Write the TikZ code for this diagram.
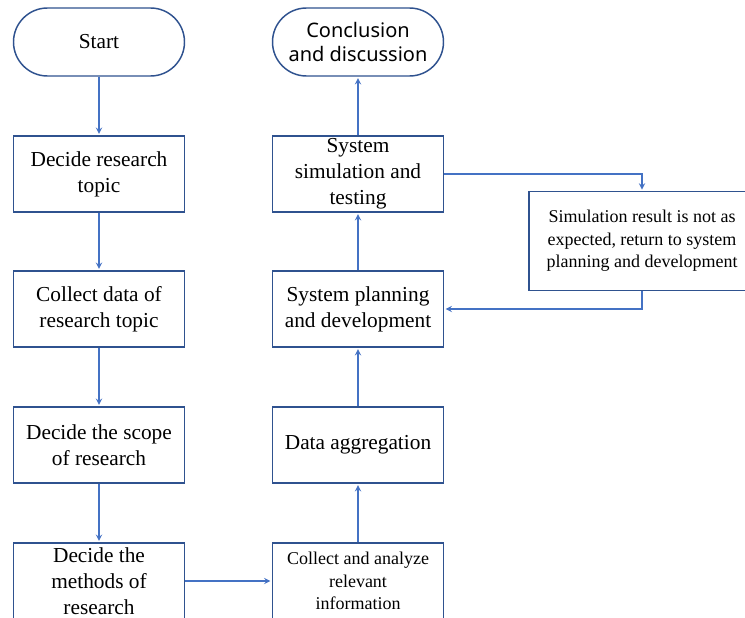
\documentclass[tikz,border=0pt]{standalone}
\usepackage{fontspec}
\setmainfont{Liberation Serif}
\newfontfamily\conclfont{Noto Sans}
\definecolor{boxblue}{HTML}{2F528F}
\definecolor{arrowblue}{HTML}{4472C4}

\begin{document}
\begin{tikzpicture}[x=0.75pt,y=-0.75pt,->,>=stealth,shorten >=1pt,
       draw=arrowblue,line width=1.1pt,
       main node/.style={rectangle,draw=boxblue,line width=1.1pt,fill=white,
         minimum width=128.25pt,minimum height=57pt,inner sep=0pt,align=center,
         font=\fontsize{16}{19.5}\selectfont},
       end node/.style={main node,rounded corners=25.5pt,minimum height=51pt},
       small node/.style={main node,font=\fontsize{13.5}{17}\selectfont}]

      \path[use as bounding box,clip] (0,0) rectangle (745,617);

      \node[end node] at (99,42) (1) {Start};
      \node[main node] at (99,174) (2) {Decide research\\topic};
      \node[main node] at (99,309) (3) {Collect data of\\research topic};
      \node[main node] at (99,445) (4) {Decide the scope\\of research};
      \node[main node] at (99,581) (5) {Decide the\\methods of\\research};
      \node[small node] at (358,581) (6) {Collect and analyze\\relevant\\information};
      \node[main node] at (358,445) (7) {Data aggregation};
      \node[main node] at (358,309) (8) {System planning\\and development};
      \node[main node] at (358,174) (9) {System\\simulation and\\testing};
      \node[end node,font=\conclfont\fontsize{15}{17.5}\selectfont] at (358,42) (10) {Conclusion\\and discussion};
      \node[small node,minimum width=169.5pt,minimum height=74pt] at (642,241) (11)
        {Simulation result is not as\\expected, return to system\\planning and development};

      \path
      (1) edge (2)
      (2) edge (3)
      (3) edge (4)
      (4) edge (5)
      (5) edge (6)
      (6) edge (7)
      (7) edge (8)
      (8) edge (9)
      (9) edge (10)
      ;
      \draw (9.east) -| (11.north);
      \draw (11.south) |- (8.east);

    \end{tikzpicture}
\end{document}
